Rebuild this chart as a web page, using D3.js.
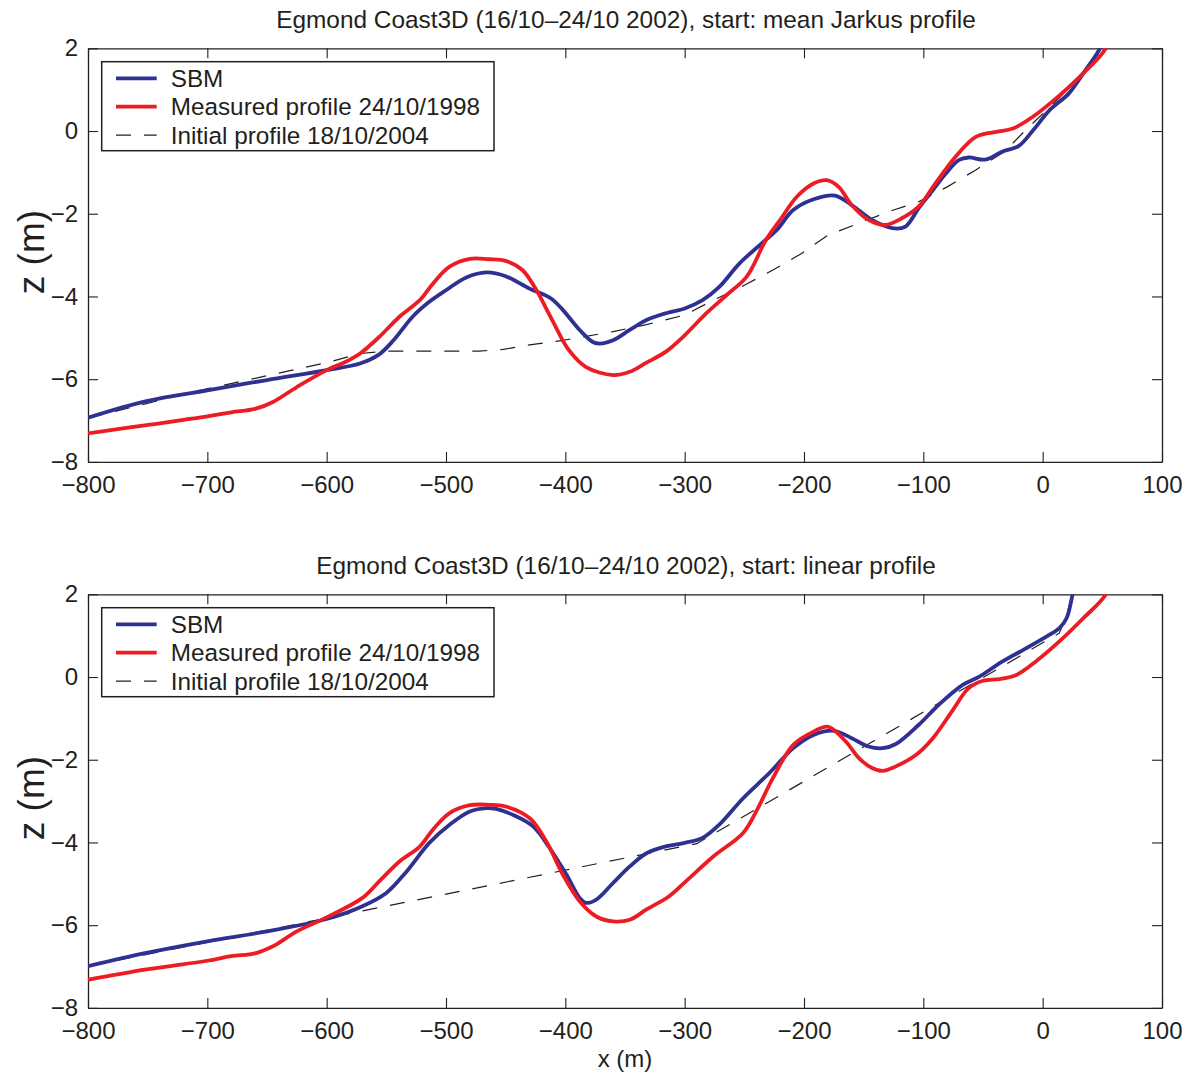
<!DOCTYPE html>
<html>
<head>
<meta charset="utf-8">
<script src="https://cdn.jsdelivr.net/npm/d3@7"></script>
<style>
  html, body { margin: 0; padding: 0; background: #fff; }
  svg text { font-family: "Liberation Sans", Arial, Helvetica, sans-serif; fill: #231f20; }
</style>
</head>
<body>
<svg id="chart" width="1195" height="1076"></svg>
<script>
// Cross-shore profiles, Egmond Coast3D (x in m, bed level z in m)
const xTicks = [-800, -700, -600, -500, -400, -300, -200, -100, 0, 100];
const zTicks = [-8, -6, -4, -2, 0, 2];
const titles = [
  "Egmond Coast3D (16/10\u201324/10 2002), start: mean Jarkus profile",
  "Egmond Coast3D (16/10\u201324/10 2002), start: linear profile"
];
const legendLabels = ["SBM", "Measured profile 24/10/1998", "Initial profile 18/10/2004"];

// Panel 1: start from the mean Jarkus profile
const sbmJarkus = [
  [-800,-6.93],[-751,-6.53],[-700,-6.27],[-650,-6.02],[-600,-5.78],[-572,-5.62],[-556,-5.40],
  [-544,-5.06],[-528,-4.49],[-514,-4.13],[-500,-3.85],[-483,-3.54],[-466,-3.42],[-450,-3.51],
  [-430,-3.81],[-412,-4.05],[-402,-4.33],[-388,-4.81],[-377,-5.10],[-371,-5.14],[-360,-5.06],
  [-346,-4.81],[-332,-4.57],[-315,-4.40],[-300,-4.29],[-285,-4.09],[-271,-3.77],[-254,-3.20],
  [-234,-2.68],[-223,-2.40],[-209,-1.91],[-192,-1.65],[-174,-1.56],[-160,-1.79],[-143,-2.15],
  [-126,-2.35],[-115,-2.31],[-104,-1.87],[-92,-1.43],[-81,-1.02],[-70,-0.70],[-62,-0.64],
  [-48,-0.69],[-34,-0.50],[-20,-0.36],[-8,0.02],[6,0.51],[22,0.91],[36,1.48],[48,2.0],[55,2.6]
];
const measuredJarkus = [
  [-800,-7.31],[-751,-7.11],[-700,-6.90],[-680,-6.80],[-660,-6.72],[-645,-6.55],[-625,-6.19],
  [-600,-5.78],[-584,-5.58],[-572,-5.38],[-556,-4.98],[-539,-4.49],[-522,-4.09],[-511,-3.69],
  [-497,-3.28],[-480,-3.09],[-464,-3.10],[-450,-3.14],[-436,-3.36],[-425,-3.81],[-411,-4.57],
  [-397,-5.30],[-383,-5.70],[-360,-5.90],[-346,-5.82],[-332,-5.60],[-316,-5.34],[-300,-4.94],
  [-282,-4.41],[-265,-3.97],[-248,-3.52],[-232,-2.64],[-220,-2.15],[-206,-1.59],[-192,-1.27],
  [-181,-1.19],[-171,-1.35],[-160,-1.79],[-146,-2.15],[-132,-2.27],[-118,-2.11],[-104,-1.83],
  [-90,-1.27],[-73,-0.62],[-56,-0.14],[-39,-0.02],[-25,0.06],[-8,0.35],[8,0.71],[31,1.31],
  [53,2.0],[60,2.6]
];
const initialJarkus = [
  [-800,-6.94],[-709,-6.29],[-600,-5.60],[-572,-5.38],[-550,-5.32],[-472,-5.32],[-452,-5.28],
  [-432,-5.18],[-402,-5.06],[-360,-4.85],[-332,-4.68],[-300,-4.45],[-276,-4.09],[-250,-3.73],
  [-226,-3.36],[-202,-2.96],[-180,-2.52],[-154,-2.23],[-129,-1.95],[-104,-1.71],[-80,-1.35],
  [-56,-0.94],[-32,-0.50],[-13,0.06],[8,0.63],[36,1.44],[48,1.96],[55,2.5]
];

// Panel 2: start from a linear profile
const sbmLinear = [
  [-800,-6.99],[-751,-6.67],[-700,-6.39],[-650,-6.15],[-600,-5.85],[-570,-5.54],[-550,-5.22],
  [-533,-4.70],[-514,-4.01],[-497,-3.57],[-480,-3.25],[-466,-3.17],[-458,-3.19],[-444,-3.33],
  [-427,-3.61],[-413,-4.14],[-399,-4.78],[-388,-5.34],[-383,-5.46],[-374,-5.38],[-360,-4.98],
  [-346,-4.58],[-332,-4.26],[-315,-4.09],[-300,-4.01],[-285,-3.89],[-271,-3.57],[-251,-2.93],
  [-229,-2.32],[-209,-1.72],[-192,-1.40],[-175,-1.30],[-160,-1.48],[-146,-1.68],[-134,-1.72],
  [-123,-1.62],[-104,-1.16],[-87,-0.67],[-67,-0.19],[-53,0.01],[-34,0.37],[-11,0.74],[8,1.06],
  [14,1.18],[20,1.42],[25,2.0],[28,2.6]
];
const measuredLinear = [
  [-800,-7.32],[-751,-7.07],[-700,-6.86],[-680,-6.75],[-660,-6.68],[-645,-6.51],[-625,-6.15],
  [-600,-5.81],[-570,-5.34],[-556,-4.94],[-539,-4.46],[-522,-4.10],[-511,-3.69],[-497,-3.29],
  [-480,-3.10],[-464,-3.09],[-450,-3.13],[-430,-3.41],[-416,-3.97],[-402,-4.78],[-388,-5.42],
  [-374,-5.79],[-360,-5.91],[-346,-5.87],[-332,-5.62],[-313,-5.30],[-299,-4.94],[-276,-4.34],
  [-251,-3.77],[-240,-3.25],[-226,-2.44],[-209,-1.64],[-192,-1.32],[-180,-1.20],[-165,-1.56],
  [-154,-1.96],[-143,-2.20],[-134,-2.27],[-123,-2.16],[-106,-1.88],[-92,-1.48],[-76,-0.83],
  [-62,-0.27],[-50,-0.09],[-36,-0.05],[-22,0.05],[-6,0.37],[14,0.86],[34,1.42],[53,2.0],[60,2.6]
];
const initialLinear = [
  [-800,-6.99],[-290,-4.03],[14,1.06],[20,1.5],[25,2.0],[30,2.6]
];

const panels = [
  { title: titles[0], sbm: sbmJarkus, measured: measuredJarkus, initial: initialJarkus, top: 48.3, xlabel: false },
  { title: titles[1], sbm: sbmLinear, measured: measuredLinear, initial: initialLinear, top: 594.3, xlabel: true }
];

const svg = d3.select("#chart");
const left = 88, right = 1162, plotH = 413.6;
const blue = "#2e3192", red = "#ed1c24", ink = "#231f20";

const x = d3.scaleLinear().domain([-800, 100]).range([0, right - left]);
const y = d3.scaleLinear().domain([-8, 2]).range([plotH, 0]);
const fmt = d3.format("d");

panels.forEach((p, i) => {
  const g = svg.append("g").attr("transform", `translate(${left},${p.top})`);

  const clipId = "clip" + i;
  g.append("clipPath").attr("id", clipId)
    .append("rect").attr("width", right - left).attr("height", plotH);

  // axes with inward ticks on all four sides
  const styleAxis = sel => {
    sel.selectAll("path.domain").attr("stroke", ink).attr("stroke-width", 1.3);
    sel.selectAll(".tick line").attr("stroke", ink).attr("stroke-width", 1.1);
    sel.selectAll("text").attr("font-size", 24).style("fill", ink);
  };
  g.append("g").attr("transform", `translate(0,${plotH})`)
    .call(d3.axisBottom(x).tickValues(xTicks).tickFormat(fmt).tickSizeInner(-10).tickSizeOuter(0).tickPadding(14))
    .call(styleAxis);
  g.append("g")
    .call(d3.axisTop(x).tickValues(xTicks).tickFormat("").tickSizeInner(-10).tickSizeOuter(0))
    .call(styleAxis);
  g.append("g")
    .call(d3.axisLeft(y).tickValues(zTicks).tickFormat(fmt).tickSizeInner(-10).tickSizeOuter(0).tickPadding(10))
    .call(styleAxis);
  g.append("g").attr("transform", `translate(${right - left},0)`)
    .call(d3.axisRight(y).tickValues(zTicks).tickFormat("").tickSizeInner(-10).tickSizeOuter(0))
    .call(styleAxis);

  const line = d3.line().x(d => x(d[0])).y(d => y(d[1]));
  const smooth = d3.line().x(d => x(d[0])).y(d => y(d[1])).curve(d3.curveCatmullRom.alpha(0.5));

  const curves = g.append("g").attr("clip-path", `url(#${clipId})`);
  curves.append("path").datum(p.initial).attr("d", line)
    .attr("fill", "none").attr("stroke", ink).attr("stroke-width", 1.2).attr("stroke-dasharray", "15,13");
  curves.append("path").datum(p.sbm).attr("d", smooth)
    .attr("fill", "none").attr("stroke", blue).attr("stroke-width", 3.8).attr("stroke-linejoin", "round");
  curves.append("path").datum(p.measured).attr("d", smooth)
    .attr("fill", "none").attr("stroke", red).attr("stroke-width", 3.8).attr("stroke-linejoin", "round");

  // legend
  const lg = g.append("g").attr("transform", "translate(13.7,13.4)");
  lg.append("rect").attr("width", 392.3).attr("height", 89)
    .attr("fill", "#fff").attr("stroke", ink).attr("stroke-width", 1.5);
  const styles = [
    { c: blue, w: 3.8, dash: null },
    { c: red, w: 3.8, dash: null },
    { c: ink, w: 1.2, dash: "15,13" }
  ];
  legendLabels.forEach((lab, k) => {
    const cy = 16.6 + k * 28.4;
    lg.append("line").attr("x1", 14.3).attr("x2", 55).attr("y1", cy).attr("y2", cy)
      .attr("stroke", styles[k].c).attr("stroke-width", styles[k].w)
      .attr("stroke-dasharray", styles[k].dash);
    lg.append("text").attr("x", 69).attr("y", cy).attr("dy", "0.36em")
      .attr("font-size", 24.3).text(lab);
  });

  // title
  svg.append("text").attr("x", (left + right) / 2 + 1).attr("y", p.top - 20.5)
    .attr("text-anchor", "middle").attr("font-size", 24.4).text(p.title);

  // z label
  svg.append("text")
    .attr("transform", `translate(44,${p.top + plotH / 2 - 3}) rotate(-90)`)
    .attr("text-anchor", "middle").attr("font-size", 37).text("z (m)");

  if (p.xlabel) {
    svg.append("text").attr("x", (left + right) / 2).attr("y", p.top + plotH + 59)
      .attr("text-anchor", "middle").attr("font-size", 24).text("x (m)");
  }
});
</script>
</body>
</html>
